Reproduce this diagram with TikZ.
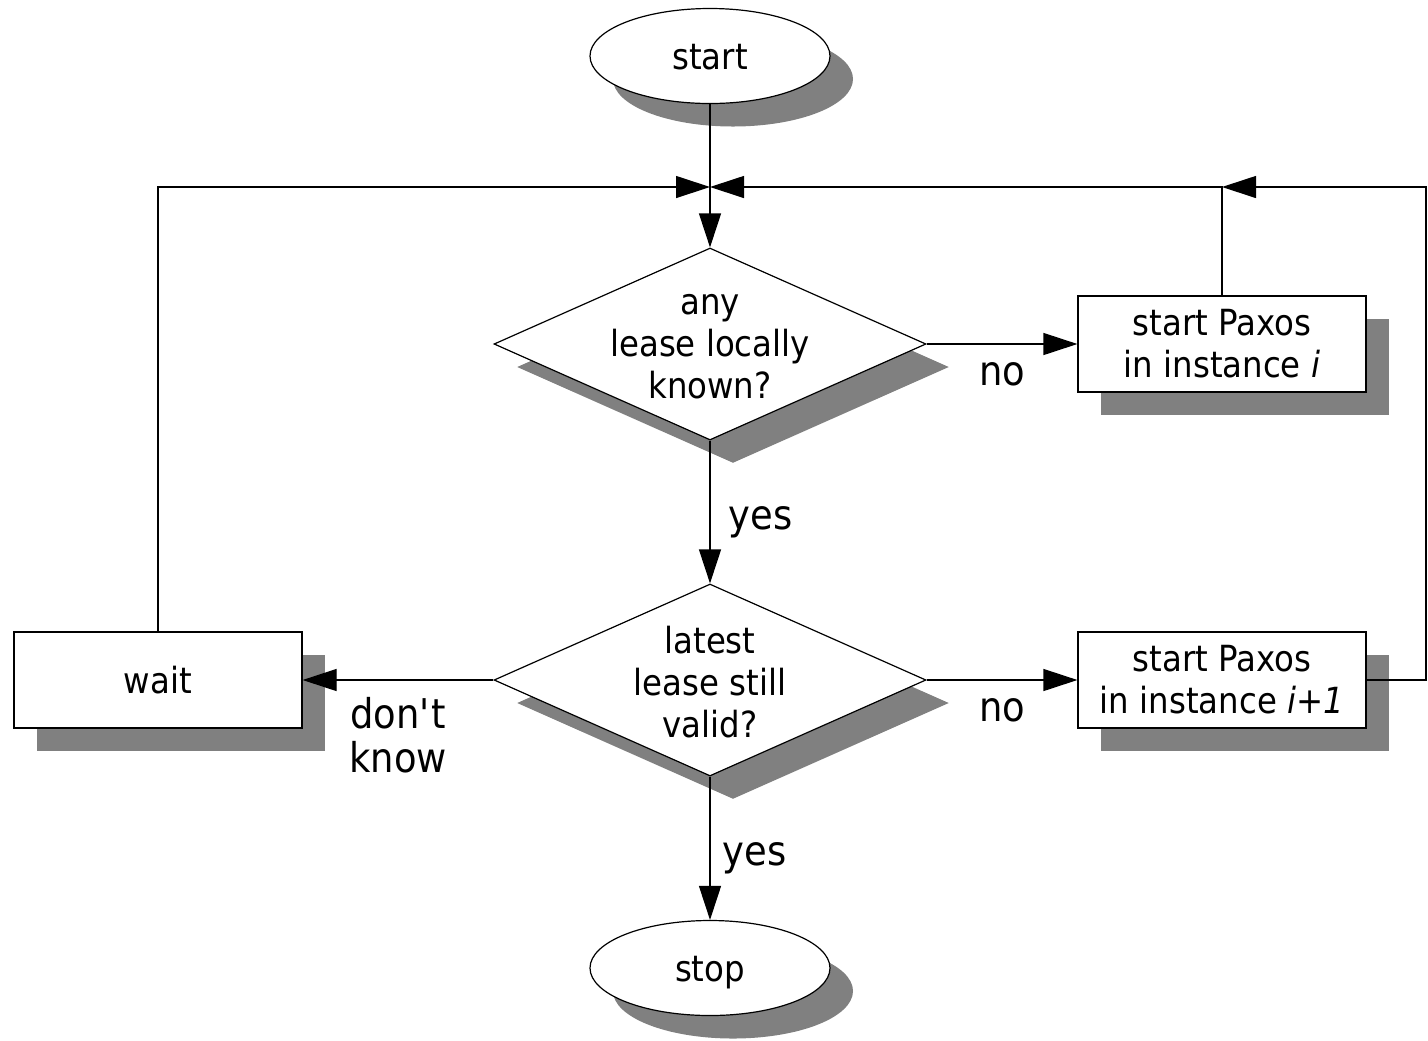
\documentclass[tikz,border=0pt]{standalone}
\usepackage{fontspec}
\setmainfont{DejaVu Sans}[FakeStretch=0.9]
\usetikzlibrary{shapes.geometric,arrows.meta,shadows}
\begin{document}
\begin{tikzpicture}[x=0.5pt,y=-0.5pt,
  every node/.style={font=\fontsize{18}{21}\selectfont, align=center, inner sep=0pt},
  castshadow/.style={drop shadow={shadow xshift=11.5pt, shadow yshift=-11.5pt, fill=black!50, opacity=1}},
  terminal/.style={ellipse, draw, fill=white, line width=0.6pt,
    minimum width=120pt, minimum height=47.5pt, text height=15pt, text depth=2pt, castshadow},
  decision/.style={diamond, draw, fill=white, line width=0.6pt,
    minimum width=216pt, minimum height=96pt, castshadow},
  process/.style={rectangle, draw, fill=white, line width=0.6pt,
    minimum width=144pt, minimum height=48pt, castshadow},
  flow/.style={draw, line width=0.6pt, -{Triangle[length=17pt,width=11pt]}},
  edgelabel/.style={font=\fontsize{20.5}{22}\selectfont},
]
\useasboundingbox (0,0) rectangle (1428,1040);

% shapes
\node[terminal] (start) at (710,56) {start};
\node[decision] (d1) at (710,344) {};
\node (d1t) at (710,347) {any\\lease locally\\known?};
\node[process] (p1) at (1222,344) {start Paxos\\in instance \textit{i}};
\node[decision] (d2) at (710,680) {};
\node (d2t) at (710,682) {latest\\lease still\\valid?};
\node[process] (p2) at (1222,680) {start Paxos\\in instance \textit{i+1}};
\node[process] (wait) at (158,680) {wait};
\node[terminal] (stop) at (710,968) {stop};

% junction points of the loops
\coordinate (J) at (710,187);
\coordinate (JR) at (1222,187);
\coordinate (RT) at (1426,187);

% connectors
\draw[flow] (start) -- (d1);
\draw[flow] (wait.north) |- (J);
\draw[flow] (p1.north) |- (J);
\draw[flow] (p2.east) -| (RT) -- (JR);
\draw[flow] (d1.east) -- (p1.west)
  node[edgelabel, midway, below=9pt] (no1) {no};
\draw[flow] (d1.south) -- (d2.north)
  node[edgelabel, midway, right=9pt, yshift=-5pt] (yes1) {yes};
\draw[flow] (d2.east) -- (p2.west)
  node[edgelabel, midway, below=9pt] (no2) {no};
\draw[flow] (d2.west) -- (wait.east)
  node[edgelabel, midway, below=8.5pt] (dk) {don\textquotesingle t\\know};
\draw[flow] (d2.south) -- (stop.north)
  node[edgelabel, midway, right=6pt, yshift=-5pt] (yes2) {yes};
\end{tikzpicture}
\end{document}
